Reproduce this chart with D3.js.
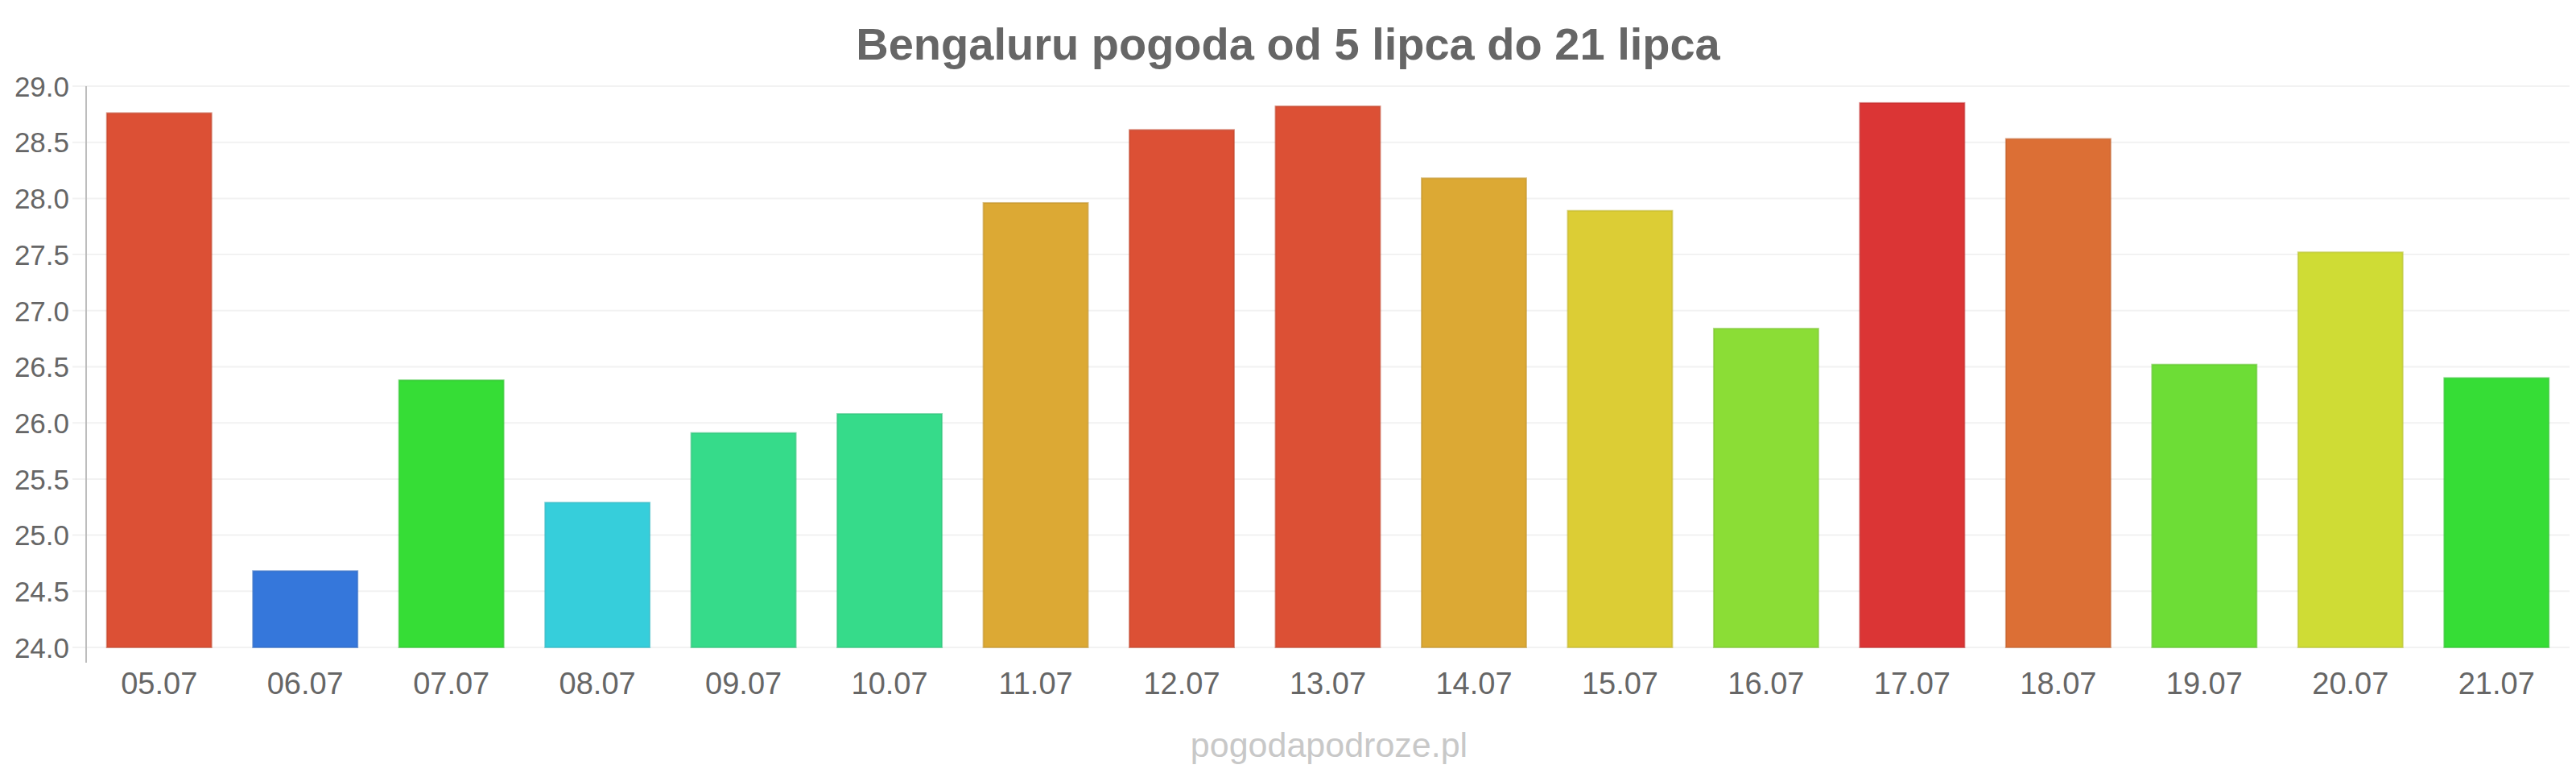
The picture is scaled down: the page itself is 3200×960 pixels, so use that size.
<!DOCTYPE html>
<html>
<head>
<meta charset="utf-8">
<script src="https://cdn.jsdelivr.net/npm/d3@7"></script>
<style>
  html, body { margin: 0; padding: 0; background: #ffffff; }
  svg { display: block; }
  text { font-family: "Liberation Sans", Arial, sans-serif; }
</style>
</head>
<body>
<svg id="chart" width="3200" height="960"></svg>
<script>
const categories = ["05.07","06.07","07.07","08.07","09.07","10.07","11.07","12.07","13.07","14.07","15.07","16.07","17.07","18.07","19.07","20.07","21.07"];
const temperatures = [28.76, 24.68, 26.38, 25.29, 25.91, 26.08, 27.96, 28.61, 28.82, 28.18, 27.89, 26.84, 28.85, 28.53, 26.52, 27.52, 26.40];
const barColors = ["#dc5035","#3577db","#36dd36","#36cedb","#36db8a","#36db8a","#dca934","#dc5035","#dc5035","#dca934","#dccd35","#8bdd36","#db3535","#dc6f35","#6ddd36","#cfdc35","#36dd36"];
const yTicks = [24.0, 24.5, 25.0, 25.5, 26.0, 26.5, 27.0, 27.5, 28.0, 28.5, 29.0];
const titleText = "Bengaluru pogoda od 5 lipca do 21 lipca";
const watermarkText = "pogodapodroze.pl";

(function () {
const svg = d3.select("#chart");
const plotLeft = 107, plotRight = 3192, plotTop = 107, plotBottom = 804;

const x = d3.scaleBand().domain(categories).range([plotLeft, plotRight]).paddingInner(0.284).paddingOuter(0.142);
const y = d3.scaleLinear().domain([24, 29]).range([plotBottom, plotTop]);

// gridlines
svg.append("g").selectAll("line").data(yTicks).join("line")
  .attr("x1", 90).attr("x2", plotRight)
  .attr("y1", d => y(d)).attr("y2", d => y(d))
  .attr("stroke", "#f2f2f2").attr("stroke-width", 2);

// y axis line
svg.append("line")
  .attr("x1", plotLeft).attr("x2", plotLeft)
  .attr("y1", y(29)).attr("y2", y(24) + 19)
  .attr("stroke", "#bdbdbd").attr("stroke-width", 2);

// y tick labels
const yAxis = d3.axisLeft(y).tickValues(yTicks).tickFormat(d3.format(".1f")).tickSize(0).tickPadding(0);
const yg = svg.append("g").attr("transform", "translate(86,0)").call(yAxis);
yg.select(".domain").remove();
yg.selectAll("text")
  .attr("font-size", 35).attr("fill", "#666666")
  .attr("font-family", "'Liberation Sans', Arial, sans-serif")
  .attr("x", 0).attr("dy", "0.35em");

// bars
svg.append("g").selectAll("rect").data(categories).join("rect")
  .attr("x", d => x(d))
  .attr("width", x.bandwidth())
  .attr("y", (d, i) => y(temperatures[i]))
  .attr("height", (d, i) => y(24) - y(temperatures[i]))
  .attr("fill", (d, i) => barColors[i])
  .attr("stroke", (d, i) => d3.color(barColors[i]).darker(0.35))
  .attr("stroke-opacity", 0.6)
  .attr("stroke-width", 2);

// x labels
const xAxis = d3.axisBottom(x).tickSize(0).tickPadding(0);
const xg = svg.append("g").attr("transform", "translate(0,862)").call(xAxis);
xg.select(".domain").remove();
xg.selectAll("text")
  .attr("font-size", 38).attr("fill", "#666666")
  .attr("font-family", "'Liberation Sans', Arial, sans-serif")
  .attr("y", 0).attr("dy", 0);

// title
svg.append("text")
  .attr("x", 1600).attr("y", 74)
  .attr("text-anchor", "middle")
  .attr("font-size", 56).attr("font-weight", "bold")
  .attr("fill", "#666666")
  .text(titleText);

// watermark
svg.append("text")
  .attr("x", 1651).attr("y", 940)
  .attr("text-anchor", "middle")
  .attr("font-size", 43)
  .attr("fill", "#c8c8c8")
  .text(watermarkText);
})();
</script>
</body>
</html>
